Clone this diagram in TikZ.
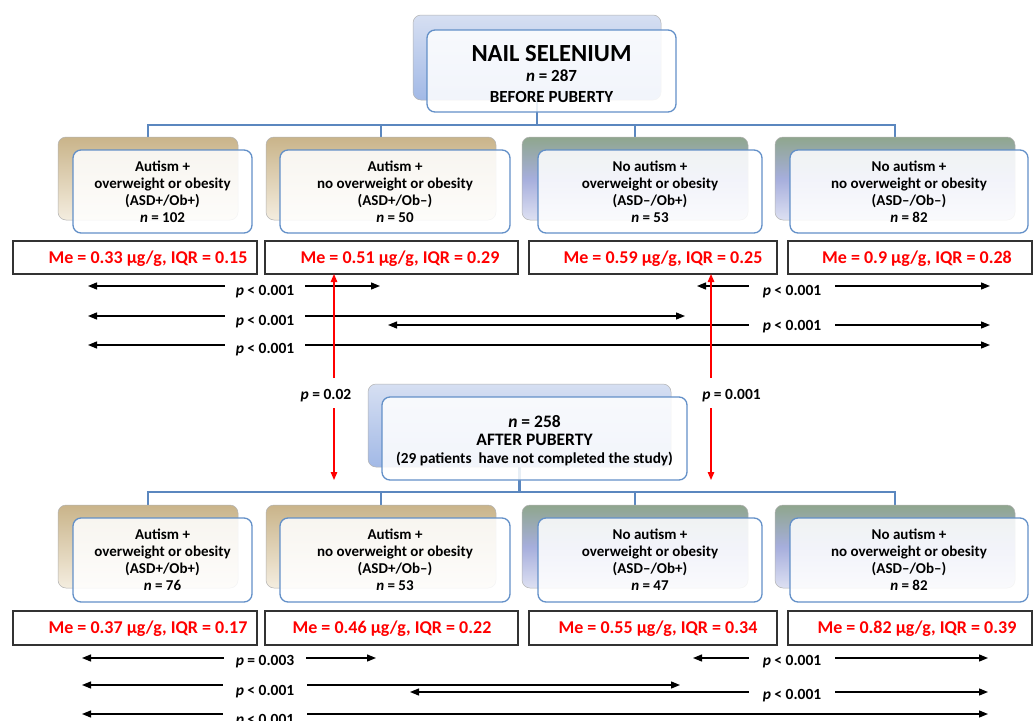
\documentclass[tikz,border=0pt]{standalone}
\usepackage{fontspec}
\setmainfont{Carlito}
\usetikzlibrary{arrows.meta}

\definecolor{frameblue}{HTML}{6390C8}
\definecolor{linkblue}{HTML}{5B87BF}
\definecolor{tanTop}{HTML}{C9B48A}
\definecolor{tanBot}{HTML}{F4EDDF}
\definecolor{greenTop}{HTML}{8FA68D}
\definecolor{lilacMid}{HTML}{A6AEDC}
\definecolor{lilacBot}{HTML}{DDE0F2}
\definecolor{skyTop}{HTML}{D6DFF2}
\definecolor{skyBot}{HTML}{A2B9E6}
\definecolor{valred}{HTML}{FF0000}
\definecolor{boxgray}{HTML}{333333}

\pgfdeclarelayer{canvas}
\pgfdeclarelayer{wires}
\pgfsetlayers{canvas,wires,main}

% four text lines of a group box
\newcommand\grouptext[4]{#1\\#2\\#3\\\textit{n} = #4}

\tikzset{
  backbase/.style={rounded corners=8pt, draw=black!30, line width=0.5pt,
    outer sep=0pt, inner sep=0pt},
  backtan/.style={backbase, top color=tanTop, bottom color=tanBot},
  backgreen/.style={backbase, top color=greenTop, bottom color=lilacBot, middle color=lilacMid},
  backsky/.style={backbase, top color=skyTop, bottom color=skyBot},
  frontbox/.style={rounded corners=8pt, draw=frameblue, line width=1.3pt,
    fill=white, fill opacity=0.86, text opacity=1, outer sep=0pt, align=center},
  groupbox/.style={frontbox, font=\fontsize{15}{17}\selectfont\bfseries},
  mebox/.style={draw=boxgray, line width=1.2pt, fill=white, outer sep=0pt,
    inner sep=0pt, minimum height=33pt},
  metext/.style={text=valred, font=\fontsize{18}{20}\selectfont\bfseries,
    inner sep=0pt, anchor=base},
  plab/.style={font=\fontsize{15.5}{18}\selectfont\bfseries, fill=white,
    inner xsep=11pt, inner ysep=2pt, anchor=base},
  plabwide/.style={plab, inner xsep=14pt},
  redlab/.style={font=\fontsize{15.5}{18}\selectfont\bfseries, inner sep=0pt, anchor=base},
  conn/.style={draw=linkblue, line width=2.2pt},
  parr/.style={black, line width=1.3pt,
    {Triangle[length=9pt,width=7pt]}-{Triangle[length=9pt,width=7pt]}},
  rarr/.style={red, line width=1.3pt, -{Triangle[length=8pt,width=6.5pt]}},
}

\begin{document}
\begin{tikzpicture}[x=1pt,y=-1pt]
\useasboundingbox (0,0) rectangle (1035,720);
\begin{pgfonlayer}{canvas}
  \fill[white] (0,0) rectangle (1035,720);
\end{pgfonlayer}

% ---------- root: before puberty ----------
\node[backsky, minimum width=248pt, minimum height=85pt] (topback) at (537,57.5) {};
\node[frontbox, minimum width=249pt, minimum height=82pt,
      font=\fontsize{17}{20.3}\selectfont\bfseries] (topfront) at (551.5,71)
  {\rule{0pt}{22pt}{\fontsize{24.6}{28}\selectfont NAIL SELENIUM}\\\textit{n} = 287\\BEFORE PUBERTY};

% ---------- groups before puberty ----------
\node[backtan,   minimum width=180pt, minimum height=83pt] (gb1) at (148,178.5) {};
\node[backtan,   minimum width=230pt, minimum height=83pt] (gb2) at (381,178.5) {};
\node[backgreen, minimum width=226pt, minimum height=83pt] (gb3) at (635,178.5) {};
\node[backgreen, minimum width=240pt, minimum height=83pt] (gb4) at (895,178.5) {};

\node[groupbox, minimum width=179pt, minimum height=83pt] (gf1) at (162.5,191.5)
  {\grouptext{Autism +}{overweight or obesity}{(ASD+/Ob+)}{102}};
\node[groupbox, minimum width=230pt, minimum height=83pt] (gf2) at (395,191.5)
  {\grouptext{Autism +}{no overweight or obesity}{(ASD+/Ob–)}{50}};
\node[groupbox, minimum width=224pt, minimum height=83pt] (gf3) at (650,191.5)
  {\grouptext{No autism +}{overweight or obesity}{(ASD–/Ob+)}{53}};
\node[groupbox, minimum width=238pt, minimum height=83pt] (gf4) at (909,191.5)
  {\grouptext{No autism +}{no overweight or obesity}{(ASD–/Ob–)}{82}};

% ---------- medians before puberty ----------
\node[mebox, minimum width=244pt] (me1) at (135,257.5) {};
\node[mebox, minimum width=253pt] (me2) at (391.5,257.5) {};
\node[mebox, minimum width=248pt] (me3) at (653,257.5) {};
\node[mebox, minimum width=244pt] (me4) at (910,257.5) {};
\node[metext] (mt1) at (148,263) {Me = 0.33 µg/g, IQR = 0.15};
\node[metext] (mt2) at (400,263) {Me = 0.51 µg/g, IQR = 0.29};
\node[metext] (mt3) at (663,263) {Me = 0.59 µg/g, IQR = 0.25};
\node[metext] (mt4) at (917,263) {Me = 0.9 µg/g, IQR = 0.28};

% ---------- comparisons before puberty ----------
\coordinate (a1l) at (88,286);  \coordinate (a1r) at (380,286);
\coordinate (a2l) at (88,316);  \coordinate (a2r) at (685,316);
\coordinate (a3l) at (88,345);  \coordinate (a3r) at (990,345);
\coordinate (a4l) at (697,286); \coordinate (a4r) at (990,286);
\coordinate (a5l) at (388,325); \coordinate (a5r) at (990,325);
\draw[parr] (a1l) -- (a1r);
\draw[parr] (a2l) -- (a2r);
\draw[parr] (a3l) -- (a3r);
\draw[parr] (a4l) -- (a4r);
\draw[parr] (a5l) -- (a5r);
\node[plab] (pa1) at (265,295) {\textit{p} < 0.001};
\node[plab] (pa2) at (265,325) {\textit{p} < 0.001};
\node[plab] (pa3) at (265,353) {\textit{p} < 0.001};
\node[plabwide] (pa4) at (792,295.5) {\textit{p} < 0.001};
\node[plabwide] (pa5) at (792,330) {\textit{p} < 0.001};

% ---------- root: after puberty ----------
\node[backsky, minimum width=303pt, minimum height=83pt] (midback) at (519.5,425.5) {};
\node[frontbox, minimum width=305pt, minimum height=83pt,
      font=\fontsize{17.5}{18}\selectfont\bfseries] (midfront) at (534.5,438.5)
  {\rule{0pt}{17pt}\textit{n} = 258\\AFTER PUBERTY\\{\fontsize{15.3}{17}\selectfont (29 patients~ have not completed the study)}};

% ---------- changes across puberty ----------
\coordinate (r1a) at (334,378); \coordinate (r1b) at (334,408); \coordinate (r1c) at (334,480);
\coordinate (r2a) at (711,378); \coordinate (r2b) at (711,408); \coordinate (r2c) at (711,480);
\draw[rarr] (r1a) -- (r1a |- me2.south);
\draw[rarr] (r1b) -- (r1c);
\draw[rarr] (r2a) -- (r2a |- me3.south);
\draw[rarr] (r2b) -- (r2c);
\node[redlab] (pr1) at (326,399) {\textit{p} = 0.02};
\node[redlab] (pr2) at (731.5,399) {\textit{p} = 0.001};

% ---------- groups after puberty ----------
\node[backtan,   minimum width=180pt, minimum height=83pt] (hb1) at (148,546.5) {};
\node[backtan,   minimum width=230pt, minimum height=83pt] (hb2) at (381,546.5) {};
\node[backgreen, minimum width=226pt, minimum height=83pt] (hb3) at (635,546.5) {};
\node[backgreen, minimum width=240pt, minimum height=83pt] (hb4) at (895,546.5) {};

\node[groupbox, minimum width=179pt, minimum height=84pt] (hf1) at (162.5,560)
  {\grouptext{Autism +}{overweight or obesity}{(ASD+/Ob+)}{76}};
\node[groupbox, minimum width=230pt, minimum height=84pt] (hf2) at (395,560)
  {\grouptext{Autism +}{no overweight or obesity}{(ASD+/Ob–)}{53}};
\node[groupbox, minimum width=224pt, minimum height=84pt] (hf3) at (650,560)
  {\grouptext{No autism +}{overweight or obesity}{(ASD–/Ob+)}{47}};
\node[groupbox, minimum width=238pt, minimum height=84pt] (hf4) at (909,560)
  {\grouptext{No autism +}{no overweight or obesity}{(ASD–/Ob–)}{82}};

% ---------- medians after puberty ----------
\node[mebox, minimum width=244pt, minimum height=34pt] (ne1) at (135,628) {};
\node[mebox, minimum width=253pt, minimum height=34pt] (ne2) at (391.5,628) {};
\node[mebox, minimum width=248pt, minimum height=34pt] (ne3) at (653,628) {};
\node[mebox, minimum width=244pt, minimum height=34pt] (ne4) at (910,628) {};
\node[metext] (nt1) at (148,633) {Me = 0.37 µg/g, IQR = 0.17};
\node[metext] (nt2) at (392,633) {Me = 0.46 µg/g, IQR = 0.22};
\node[metext] (nt3) at (658,633) {Me = 0.55 µg/g, IQR = 0.34};
\node[metext] (nt4) at (917,633) {Me = 0.82 µg/g, IQR = 0.39};

% ---------- comparisons after puberty ----------
\coordinate (b1l) at (82,658);  \coordinate (b1r) at (376,658);
\coordinate (b2l) at (82,685);  \coordinate (b2r) at (680,685);
\coordinate (b3l) at (82,714);  \coordinate (b3r) at (988,714);
\coordinate (b4l) at (693,658); \coordinate (b4r) at (988,658);
\coordinate (b5l) at (410,692); \coordinate (b5r) at (988,692);
\draw[parr] (b1l) -- (b1r);
\draw[parr] (b2l) -- (b2r);
\draw[parr] (b3l) -- (b3r);
\draw[parr] (b4l) -- (b4r);
\draw[parr] (b5l) -- (b5r);
\node[plab, inner xsep=12pt] (pb1) at (265,665) {\textit{p} = 0.003};
\node[plab, inner xsep=13pt] (pb2) at (265,695) {\textit{p} < 0.001};
\node[plab, inner xsep=13pt] (pb3) at (265,724) {\textit{p} < 0.001};
\node[plabwide] (pb4) at (792,665) {\textit{p} < 0.001};
\node[plabwide] (pb5) at (792,699) {\textit{p} < 0.001};

% ---------- tree connectors, kept behind the boxes ----------
\begin{pgfonlayer}{wires}
  \coordinate (bus1) at (537,125);
  \draw[conn] (topback.south) -- (bus1);
  \draw[conn] (bus1) -| (gb1.north);
  \draw[conn] (bus1) -| (gb2.north);
  \draw[conn] (bus1) -| (gb3.north);
  \draw[conn] (bus1) -| (gb4.north);
  \coordinate (bus2) at (519.5,492);
  \draw[conn] (midback.south) -- (bus2);
  \draw[conn] (bus2) -| (hb1.north);
  \draw[conn] (bus2) -| (hb2.north);
  \draw[conn] (bus2) -| (hb3.north);
  \draw[conn] (bus2) -| (hb4.north);
\end{pgfonlayer}
\end{tikzpicture}
\end{document}
